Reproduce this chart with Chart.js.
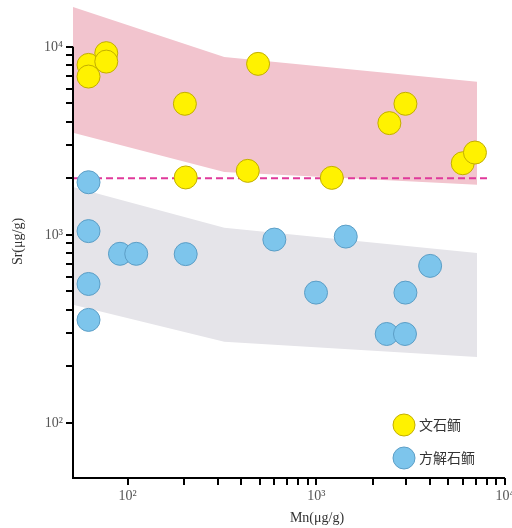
<!DOCTYPE html>
<html>
<head>
<meta charset="utf-8">
<script src="https://cdn.jsdelivr.net/npm/chart.js@4/dist/chart.umd.min.js"></script>
<style>
  html, body { margin: 0; padding: 0; background: #fff; }
  #wrap { width: 512px; height: 528px; }
</style>
</head>
<body>
<div id="wrap"><canvas id="chart"></canvas></div>
<script>
// ---- data (Mn, Sr in μg/g) ----
const seriesNames = ['文石鲕', '方解石鲕'];

const aragMn = [62, 62, 77, 77, 201, 203, 433, 491, 1208, 2438, 2966, 5970, 6930];
const aragSr = [8020, 6950, 9260, 8350, 4980, 2020, 2190, 8120, 2010, 3930, 4980, 2404, 2741];

const calcMn = [62, 62, 62, 62, 91, 111, 203, 599, 996, 1432, 2360, 2950, 2966, 4010];
const calcSr = [1905, 1047, 548, 353, 793, 793, 790, 944, 493, 979, 297, 297, 493, 684];

// envelope bands
const bandMn = [51.3, 325, 7110];
const pinkTop = [16300, 8840, 6520];
const pinkBottom = [3490, 2160, 1845];
const grayTop = [1800, 1090, 802];
const grayBottom = [425, 270, 224];

// boundary line
const limitMn = [51.3, 8340];
const limitSr = [2000, 2000];

// axes
const mnTicks = [100, 200, 300, 400, 500, 600, 700, 800, 900,
  1000, 2000, 3000, 4000, 5000, 6000, 7000, 8000, 9000, 10000];
const srTicks = mnTicks;
const decadeLabels = { 100: '10²', 1000: '10³', 10000: '10⁴' };

const pts = (xs, ys) => xs.map((x, i) => ({ x: x, y: ys[i] }));

const YELLOW = '#fff200', YELLOW_EDGE = '#c2ae00';
const BLUE = '#7dc5ec', BLUE_EDGE = '#5c9ec6';

// axis lines + legend + x title
const extras = {
  id: 'extras',
  afterDraw(chart) {
    const ctx = chart.ctx;
    const a = chart.chartArea;
    const y = chart.scales.y;
    ctx.save();
    ctx.strokeStyle = '#000';
    ctx.lineWidth = 2;
    ctx.beginPath();
    ctx.moveTo(a.left, y.getPixelForValue(10000));
    ctx.lineTo(a.left, a.bottom);
    ctx.lineTo(a.right, a.bottom);
    ctx.stroke();

    // legend
    const items = [
      { label: seriesNames[0], fill: YELLOW, edge: YELLOW_EDGE },
      { label: seriesNames[1], fill: BLUE, edge: BLUE_EDGE }
    ];
    items.forEach((it, i) => {
      const cx = 404, cy = 425 + i * 33;
      ctx.beginPath();
      ctx.arc(cx, cy, 11, 0, Math.PI * 2);
      ctx.fillStyle = it.fill;
      ctx.fill();
      ctx.lineWidth = 1;
      ctx.strokeStyle = it.edge;
      ctx.stroke();
      ctx.fillStyle = '#333';
      ctx.font = '14px "Noto Sans CJK SC"';
      ctx.textAlign = 'left';
      ctx.textBaseline = 'middle';
      ctx.fillText(it.label, cx + 15, cy);
    });

    // x title
    ctx.fillStyle = '#333';
    ctx.font = '14px "Liberation Serif"';
    ctx.textAlign = 'center';
    ctx.textBaseline = 'middle';
    ctx.fillText('Mn(μg/g)', (a.left + a.right) / 2 + 28, 518);
    ctx.restore();
  }
};

const tickStyle = {
  autoSkip: false,
  maxRotation: 0,
  padding: 3,
  color: '#555',
  font: { family: 'Liberation Serif', size: 14 },
  callback: v => decadeLabels[v] || ''
};

const gridStyle = {
  drawOnChartArea: false,
  drawTicks: true,
  tickLength: 7,
  color: '#000',
  lineWidth: 2
};

new Chart(document.getElementById('chart'), {
  type: 'scatter',
  data: {
    datasets: [
      {
        label: seriesNames[0],
        data: pts(aragMn, aragSr),
        backgroundColor: YELLOW,
        borderColor: YELLOW_EDGE,
        borderWidth: 1,
        pointRadius: 11.5
      },
      {
        label: seriesNames[1],
        data: pts(calcMn, calcSr),
        backgroundColor: BLUE,
        borderColor: BLUE_EDGE,
        borderWidth: 1,
        pointRadius: 11.5
      },
      {
        label: 'limit',
        data: pts(limitMn, limitSr),
        showLine: true,
        borderColor: '#e0399a',
        borderWidth: 2,
        borderDash: [7, 4],
        pointRadius: 0
      },
      {
        label: 'pinkTop',
        data: pts(bandMn, pinkTop),
        showLine: true,
        borderWidth: 0,
        borderColor: 'rgba(0,0,0,0)',
        pointRadius: 0
      },
      {
        label: 'pinkBottom',
        data: pts(bandMn, pinkBottom),
        showLine: true,
        borderWidth: 0,
        borderColor: 'rgba(0,0,0,0)',
        pointRadius: 0,
        fill: '-1',
        backgroundColor: '#f2c4ce'
      },
      {
        label: 'grayTop',
        data: pts(bandMn, grayTop),
        showLine: true,
        borderWidth: 0,
        borderColor: 'rgba(0,0,0,0)',
        pointRadius: 0
      },
      {
        label: 'grayBottom',
        data: pts(bandMn, grayBottom),
        showLine: true,
        borderWidth: 0,
        borderColor: 'rgba(0,0,0,0)',
        pointRadius: 0,
        fill: '-1',
        backgroundColor: '#e5e4e9'
      }
    ]
  },
  options: {
    responsive: true,
    maintainAspectRatio: false,
    animation: false,
    layout: { autoPadding: false, padding: { top: 5, right: 7, left: 0, bottom: 0 } },
    plugins: {
      legend: { display: false },
      tooltip: { enabled: false }
    },
    scales: {
      x: {
        type: 'logarithmic',
        min: 51.3,
        max: 10000,
        border: { display: false },
        grid: gridStyle,
        ticks: tickStyle,
        afterBuildTicks: s => { s.ticks = mnTicks.map(v => ({ value: v })); },
        afterFit: s => { s.height = 50; s.paddingLeft = 0; s.paddingRight = 0; }
      },
      y: {
        type: 'logarithmic',
        min: 50.9,
        max: 16700,
        border: { display: false },
        grid: gridStyle,
        ticks: tickStyle,
        title: {
          display: true,
          text: 'Sr(μg/g)',
          color: '#333',
          font: { family: 'Liberation Serif', size: 14 },
          padding: { top: 10, bottom: 0 }
        },
        afterBuildTicks: s => { s.ticks = srTicks.map(v => ({ value: v })); },
        afterFit: s => { s.width = 73; s.paddingTop = 0; s.paddingBottom = 0; }
      }
    }
  },
  plugins: [extras]
});
</script>
</body>
</html>
